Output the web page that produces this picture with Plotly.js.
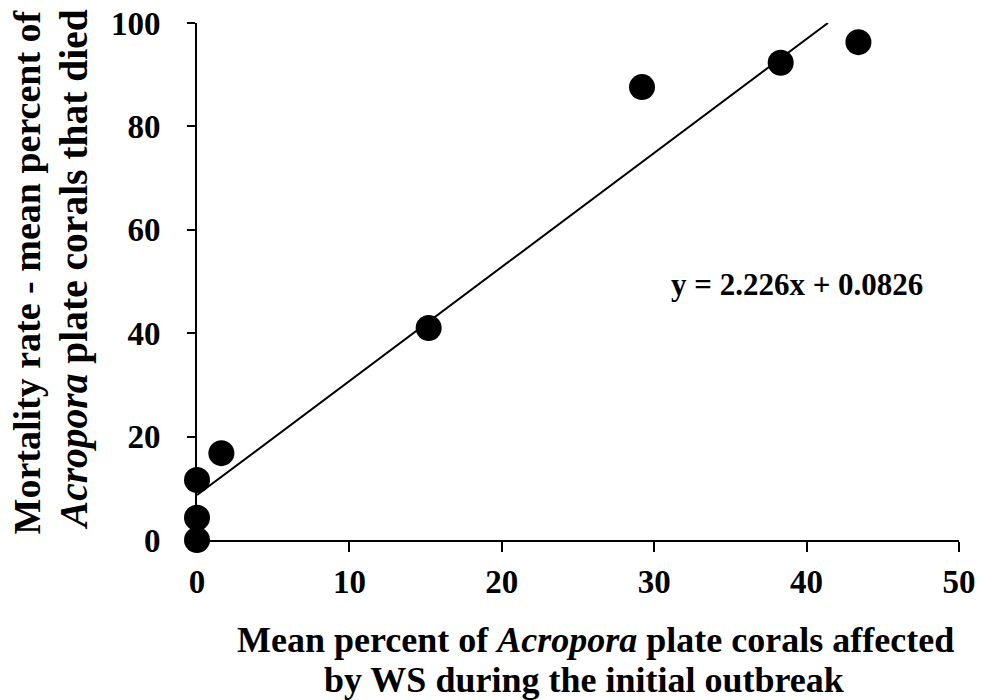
<!DOCTYPE html>
<html>
<head>
<meta charset="utf-8">
<script src="https://cdn.plot.ly/plotly-3.0.1.min.js"></script>
<style>html,body{margin:0;padding:0;background:#fff}#chart{width:982px;height:700px}</style>
</head>
<body>
<div id="chart"></div>
<script>
// Data
var affectedPct = [0, 0, 0, 1.6, 15.2, 29.2, 38.3, 43.4];
var mortalityPct = [0, 4.3, 11.6, 16.8, 41.0, 87.6, 92.3, 96.3];
var trendX = [0, 41.4];
var trendY = [8.7, 100];
var xTicks = [0, 10, 20, 30, 40, 50];
var yTicks = [0, 20, 40, 60, 80, 100];
var equationText = "y = 2.226x + 0.0826";
var xTitleLines = ["Mean percent of <i>Acropora</i> plate corals affected", "by WS during the initial outbreak"];
var yTitleLines = ["Mortality rate - mean percent of", "<i>Acropora</i> plate corals that died"];

var serif = "Liberation Serif, Times New Roman, serif";
var xTitleFont = {family: serif, size: 36, weight: "bold", color: "#000"};
var yTitleFont = {family: serif, size: 38, weight: "bold", color: "#000"};
var yTitleFont2 = {family: serif, size: 39.5, weight: "bold", color: "#000"};

var traces = [
  {
    x: trendX, y: trendY, type: "scatter", mode: "lines",
    line: {color: "#000", width: 2}, hoverinfo: "skip", cliponaxis: false
  },
  {
    x: affectedPct, y: mortalityPct, type: "scatter", mode: "markers",
    marker: {color: "#000", size: 26, line: {width: 0}}, cliponaxis: false
  }
];

var layout = {
  width: 982, height: 700,
  margin: {l: 197, r: 23, t: 23, b: 160},
  paper_bgcolor: "#fff", plot_bgcolor: "#fff",
  showlegend: false,
  font: {family: serif, color: "#000"},
  xaxis: {
    range: [0, 50], tickvals: xTicks, ticktext: xTicks.map(String),
    showgrid: false, zeroline: false, showline: true, linecolor: "#000", linewidth: 2,
    ticks: "outside", ticklen: 10, tickwidth: 2, tickcolor: "#000",
    tickfont: {family: serif, size: 33, weight: "bold", color: "#000"},
    ticklabelstandoff: 1, fixedrange: true
  },
  yaxis: {
    range: [0, 100], tickvals: yTicks, ticktext: yTicks.map(String),
    showgrid: false, zeroline: false, showline: true, linecolor: "#000", linewidth: 2,
    ticks: "outside", ticklen: 8, tickwidth: 2, tickcolor: "#000",
    tickfont: {family: serif, size: 33, weight: "bold", color: "#000"},
    ticklabelstandoff: 20, fixedrange: true
  },
  annotations: [
    {
      text: equationText, xref: "x", yref: "y", x: 39.4, y: 49.5,
      showarrow: false, font: {family: serif, size: 31, weight: "bold", color: "#000"}
    },
    {
      text: xTitleLines[0], xref: "paper", yref: "paper", x: 0.5236, y: -0.1934,
      xanchor: "center", yanchor: "middle", showarrow: false, font: xTitleFont
    },
    {
      text: xTitleLines[1], xref: "paper", yref: "paper", x: 0.508, y: -0.2708,
      xanchor: "center", yanchor: "middle", showarrow: false, font: xTitleFont
    },
    {
      text: yTitleLines[0], xref: "paper", yref: "paper", x: -0.2225, y: 1.03,
      xanchor: "center", yanchor: "top", textangle: -90, showarrow: false, font: yTitleFont
    },
    {
      text: yTitleLines[1], xref: "paper", yref: "paper", x: -0.1605, y: 1.031,
      xanchor: "center", yanchor: "top", textangle: -90, showarrow: false, font: yTitleFont2
    }
  ]
};

Plotly.newPlot("chart", traces, layout, {displayModeBar: false, staticPlot: true});
</script>
</body>
</html>
